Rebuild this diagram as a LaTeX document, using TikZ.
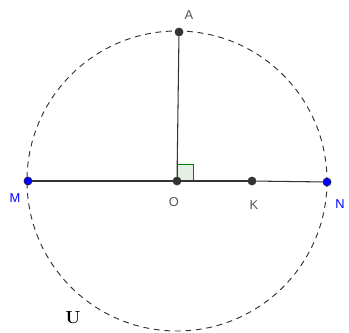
\documentclass[tikz,border=0pt]{standalone}
\usepackage{fontspec}
\newfontfamily\labfont{Liberation Sans}
\definecolor{ptgray}{HTML}{333333}
\definecolor{lblgray}{HTML}{555555}
\definecolor{ptblue}{HTML}{0000FF}
\definecolor{sqgreen}{HTML}{007F00}
\definecolor{sqfill}{HTML}{E3F0E3}
\tikzset{
  pt/.style={circle,fill=ptgray,draw=ptgray,inner sep=0pt,minimum size=7pt},
  bluept/.style={pt,fill=ptblue,draw=ptgray!60!black},
  lbl/.style={font=\labfont\fontsize{11}{13}\selectfont,text=lblgray,inner sep=0pt},
  bluelbl/.style={lbl,text=ptblue},
  seg/.style={line width=0.9pt,draw=ptgray},
  rightmark/.style={draw=sqgreen,fill=sqfill,line width=0.7pt}
}
\begin{document}
\begin{tikzpicture}[x=0.03cm,y=-0.03cm]
      \useasboundingbox (0,0) rectangle (349,332);
      \coordinate (c) at (177,181);
      \draw[rightmark] (c) rectangle ++(16,-17);
      \draw[line width=0.8pt,draw=ptgray,dash pattern=on 5pt off 4pt] (c) circle [radius=150];

      \node[pt] (O) at (177,181){};
      \node[pt] (A) at (179,32){};
      \node[pt] (K) at (252,181){};
      \node[bluept] (M) at (28,181){};
      \node[bluept] (N) at (327,182){};

      \draw[seg] (M) -- (O);
      \draw[seg] (O) -- (K);
      \draw[seg] (K) -- (N);
      \draw[seg] (O) -- (A);

      \node[lbl] (lA) at (189,15){A};
      \node[lbl] (lO) at (174,202){O};
      \node[lbl] (lK) at (254,205){K};
      \node[bluelbl] (lM) at (15,198){M};
      \node[bluelbl] (lN) at (340,204){N};
      \node[font=\bfseries\fontsize{15}{17}\selectfont,inner sep=0pt] (U) at (73,318){U};
    \end{tikzpicture}
\end{document}
